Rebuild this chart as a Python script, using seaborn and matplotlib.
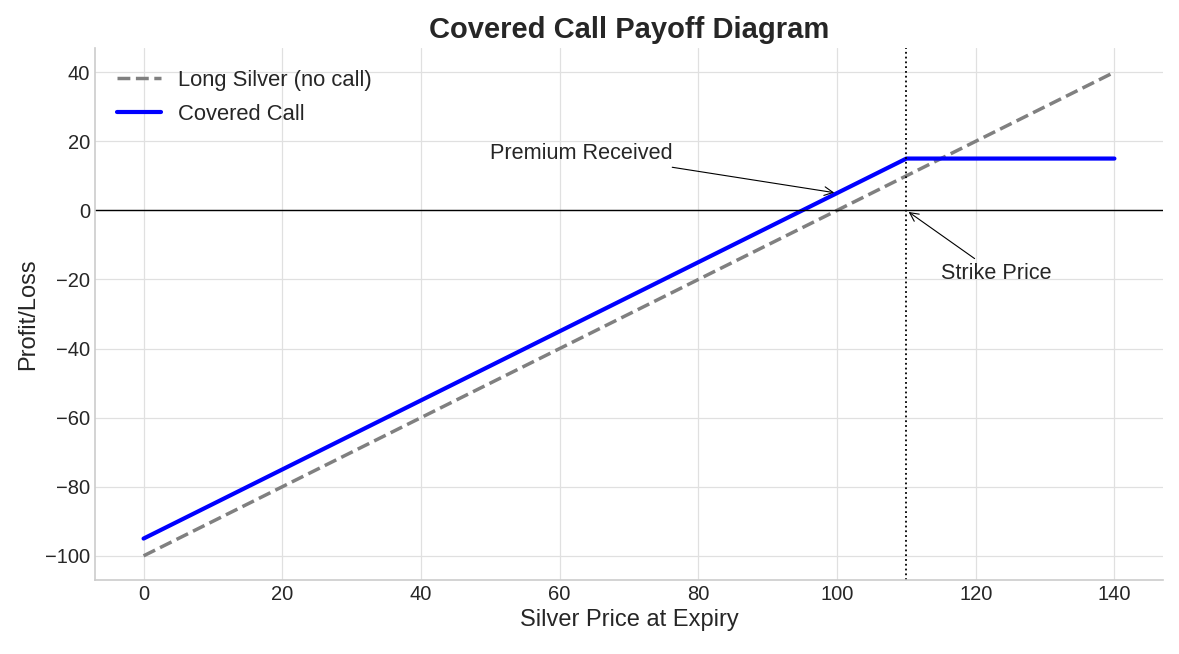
import matplotlib
matplotlib.use("Agg")
import matplotlib.pyplot as plt
import seaborn as sns
import pandas as pd

# Data
long_x = [0, 140]
long_y = [-100, 40]
cc_x = [0, 110, 140]
cc_y = [-95, 15, 15]
strike = 110
premium_point = (100, 5)
premium_text = (50, 15)
strike_text = (115, -20)

sns.set_theme(style="whitegrid")
plt.style.use("seaborn-v0_8-whitegrid")
plt.rcParams['font.family'] = ['Liberation Sans', 'DejaVu Sans']
plt.rcParams['text.color'] = '.15'
plt.rcParams['axes.labelcolor'] = '.15'
plt.rcParams['xtick.color'] = '.15'
plt.rcParams['ytick.color'] = '.15'
plt.rcParams['grid.color'] = '#e0e0e0'
plt.rcParams['grid.linewidth'] = 0.9

fig = plt.figure(figsize=(11.79, 6.54), dpi=100)
ax = fig.add_axes([0.0806, 0.1131, 0.9058, 0.8135])

df_long = pd.DataFrame({"x": long_x, "y": long_y})
df_cc = pd.DataFrame({"x": cc_x, "y": cc_y})

sns.lineplot(data=df_long, x="x", y="y", ax=ax, color="gray", linestyle="--",
             linewidth=2.5, label="Long Silver (no call)")
sns.lineplot(data=df_cc, x="x", y="y", ax=ax, color="blue", linewidth=3,
             label="Covered Call")

ax.axhline(0, color="black", linewidth=1)
ax.axvline(strike, color="black", linestyle=":", linewidth=1.3)

ax.annotate("Premium Received", xy=premium_point, xytext=premium_text,
            arrowprops=dict(arrowstyle="->", color="black", lw=0.8), fontsize=15.6)
ax.annotate("Strike Price", xy=(strike, 0), xytext=strike_text,
            arrowprops=dict(arrowstyle="->", color="black", lw=0.8), fontsize=15.6)

ax.set_xticks([0, 20, 40, 60, 80, 100, 120, 140])
ax.set_yticks([-100, -80, -60, -40, -20, 0, 20, 40])
ax.tick_params(labelsize=14.5)
ax.set_xlabel("Silver Price at Expiry", fontsize=17)
ax.set_ylabel("Profit/Loss", fontsize=17)
ax.set_title("Covered Call Payoff Diagram", fontsize=21, fontweight="bold", pad=7)

leg = ax.legend(loc="upper left", fontsize=15.8, frameon=False, handlelength=2.0,
                labelspacing=0.6, borderaxespad=0.6)

sns.despine(ax=ax)
for s in ["left", "bottom"]:
    ax.spines[s].set_color(".8")
    ax.spines[s].set_linewidth(1.2)

fig.savefig("out.png", dpi=100)
